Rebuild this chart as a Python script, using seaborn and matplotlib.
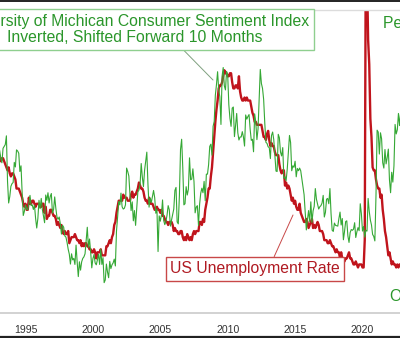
import numpy as np
import pandas as pd
import matplotlib
matplotlib.use("Agg")
import matplotlib.pyplot as plt
from matplotlib.lines import Line2D
import seaborn as sns

# ---- data -------------------------------------------------------------
# US unemployment rate, monthly, Jan 1993 .. Dec 2022 (%)
unemp_start_year = 1993
unemployment = [
    7.3, 7.1, 7.0, 7.1, 7.1, 7.0, 6.9, 6.8, 6.7, 6.8, 6.6, 6.5,
    6.6, 6.6, 6.5, 6.4, 6.1, 6.1, 6.1, 6.0, 5.9, 5.8, 5.6, 5.5,
    5.6, 5.4, 5.4, 5.8, 5.6, 5.6, 5.7, 5.7, 5.6, 5.5, 5.6, 5.6,
    5.6, 5.5, 5.5, 5.6, 5.6, 5.3, 5.5, 5.1, 5.2, 5.2, 5.4, 5.4,
    5.3, 5.2, 5.2, 5.1, 4.9, 5.0, 4.9, 4.8, 4.9, 4.7, 4.6, 4.7,
    4.6, 4.6, 4.7, 4.3, 4.4, 4.5, 4.5, 4.5, 4.6, 4.5, 4.4, 4.4,
    4.3, 4.4, 4.2, 4.3, 4.2, 4.3, 4.3, 4.2, 4.2, 4.1, 4.1, 4.0,
    4.0, 4.1, 4.0, 3.8, 4.0, 4.0, 4.0, 4.1, 3.9, 3.9, 3.9, 3.9,
    4.2, 4.2, 4.3, 4.4, 4.3, 4.5, 4.6, 4.9, 5.0, 5.3, 5.5, 5.7,
    5.7, 5.7, 5.7, 5.9, 5.8, 5.8, 5.8, 5.7, 5.7, 5.7, 5.9, 6.0,
    5.8, 5.9, 5.9, 6.0, 6.1, 6.3, 6.2, 6.1, 6.1, 6.0, 5.8, 5.7,
    5.7, 5.6, 5.8, 5.6, 5.6, 5.6, 5.5, 5.4, 5.4, 5.5, 5.4, 5.4,
    5.3, 5.4, 5.2, 5.2, 5.1, 5.0, 5.0, 4.9, 5.0, 5.0, 5.0, 4.9,
    4.7, 4.8, 4.7, 4.7, 4.6, 4.6, 4.7, 4.7, 4.5, 4.4, 4.5, 4.4,
    4.6, 4.5, 4.4, 4.5, 4.4, 4.6, 4.7, 4.6, 4.7, 4.7, 4.7, 5.0,
    5.0, 4.9, 5.1, 5.0, 5.4, 5.6, 5.8, 6.1, 6.1, 6.5, 6.8, 7.3,
    7.8, 8.3, 8.7, 9.0, 9.4, 9.5, 9.5, 9.6, 9.8, 10.0, 9.9, 9.9,
    9.8, 9.8, 9.9, 9.9, 9.6, 9.4, 9.4, 9.5, 9.5, 9.4, 9.8, 9.3,
    9.1, 9.0, 9.0, 9.1, 9.0, 9.1, 9.0, 9.0, 9.0, 8.8, 8.6, 8.5,
    8.3, 8.3, 8.2, 8.2, 8.2, 8.2, 8.2, 8.0, 7.8, 7.8, 7.7, 7.9,
    8.0, 7.7, 7.5, 7.6, 7.5, 7.5, 7.3, 7.2, 7.2, 7.2, 6.9, 6.7,
    6.6, 6.7, 6.7, 6.2, 6.3, 6.1, 6.2, 6.1, 5.9, 5.7, 5.8, 5.6,
    5.7, 5.5, 5.4, 5.4, 5.6, 5.3, 5.2, 5.1, 5.0, 5.0, 5.1, 5.0,
    4.8, 4.9, 5.0, 5.1, 4.8, 4.9, 4.8, 4.9, 5.0, 4.9, 4.7, 4.7,
    4.7, 4.6, 4.4, 4.4, 4.4, 4.3, 4.3, 4.4, 4.3, 4.2, 4.2, 4.1,
    4.0, 4.1, 4.0, 4.0, 3.8, 4.0, 3.8, 3.8, 3.7, 3.8, 3.8, 3.9,
    4.0, 3.8, 3.8, 3.7, 3.6, 3.6, 3.7, 3.6, 3.5, 3.6, 3.6, 3.6,
    3.5, 3.5, 4.4, 14.8, 13.2, 11.0, 10.2, 8.4, 7.8, 6.8, 6.7, 6.7,
    6.4, 6.2, 6.1, 6.1, 5.8, 5.9, 5.4, 5.1, 4.7, 4.5, 4.2, 3.9,
    4.0, 3.8, 3.6, 3.7, 3.6, 3.6, 3.5, 3.6, 3.5, 3.6, 3.6, 3.5,
]

# University of Michigan consumer sentiment, monthly, Jan 1992 .. Dec 2022
sent_start_year = 1992
sentiment = [
    67.5, 68.8, 76.0, 77.2, 79.2, 80.4, 76.6, 76.1, 75.6, 73.3, 85.3, 91.0,
    89.3, 86.6, 85.9, 85.6, 80.3, 81.5, 77.0, 77.3, 77.9, 82.7, 81.2, 88.2,
    94.3, 93.2, 91.5, 92.6, 92.8, 91.2, 89.0, 91.7, 91.5, 92.7, 91.6, 95.1,
    97.6, 95.1, 90.3, 92.5, 89.8, 92.7, 94.4, 96.2, 88.9, 90.3, 88.3, 91.0,
    89.3, 88.5, 93.7, 92.7, 89.4, 92.4, 94.7, 95.3, 94.7, 96.5, 99.2, 96.9,
    97.4, 99.7, 100.0, 101.4, 103.2, 104.5, 107.1, 104.4, 106.0, 105.6, 107.2, 102.1,
    106.6, 110.4, 106.5, 108.7, 106.5, 105.6, 105.2, 104.4, 100.9, 97.4, 102.7, 100.5,
    103.9, 108.1, 105.7, 104.6, 106.8, 107.3, 106.0, 104.5, 107.2, 103.2, 107.2, 105.4,
    112.0, 111.3, 107.1, 109.2, 110.7, 106.4, 108.3, 107.3, 106.8, 105.8, 107.6, 98.4,
    94.7, 90.6, 91.5, 88.4, 92.0, 92.6, 92.4, 91.5, 81.8, 82.7, 83.9, 88.8,
    93.0, 90.7, 95.7, 93.0, 96.9, 92.4, 88.1, 87.6, 86.1, 80.6, 84.2, 86.7,
    82.4, 79.9, 77.6, 86.0, 92.1, 89.7, 90.9, 89.3, 87.7, 89.6, 93.7, 92.6,
    103.8, 94.4, 95.8, 94.2, 90.2, 95.6, 96.7, 95.9, 94.2, 91.7, 92.8, 97.1,
    95.5, 94.1, 92.6, 87.7, 86.9, 96.0, 96.5, 89.1, 76.9, 74.2, 81.6, 91.5,
    91.2, 86.7, 88.9, 87.4, 79.1, 84.9, 84.7, 82.0, 85.4, 93.6, 92.1, 91.7,
    96.9, 91.3, 88.4, 87.1, 88.3, 85.3, 90.4, 83.4, 83.4, 80.9, 76.1, 75.5,
    78.4, 70.8, 69.5, 62.6, 59.8, 56.4, 61.2, 63.0, 70.3, 57.6, 55.3, 60.1,
    61.2, 56.3, 57.3, 65.1, 68.7, 70.8, 66.0, 65.7, 73.5, 70.6, 67.4, 72.5,
    74.4, 73.6, 73.6, 72.2, 73.6, 76.0, 67.8, 68.9, 68.2, 67.7, 71.6, 74.5,
    74.2, 77.5, 67.5, 69.8, 74.3, 71.5, 63.7, 55.8, 59.5, 60.8, 63.7, 69.9,
    75.0, 75.3, 76.2, 76.4, 79.3, 73.2, 72.3, 74.3, 78.3, 82.6, 82.7, 72.9,
    73.8, 77.6, 78.6, 76.4, 84.5, 84.1, 85.1, 82.1, 77.5, 73.2, 75.1, 82.5,
    81.2, 81.6, 80.0, 84.1, 81.9, 82.5, 81.8, 82.5, 84.6, 86.9, 88.8, 93.6,
    98.1, 95.4, 93.0, 95.9, 90.7, 96.1, 93.1, 91.9, 87.2, 90.0, 91.3, 92.6,
    92.0, 91.7, 91.0, 89.0, 94.7, 93.5, 90.0, 89.8, 91.2, 87.2, 93.8, 98.2,
    98.5, 96.3, 96.9, 97.0, 97.1, 95.1, 93.4, 96.8, 95.1, 100.7, 98.5, 95.9,
    95.7, 99.7, 101.4, 98.8, 98.0, 98.2, 97.9, 96.2, 100.1, 98.6, 97.5, 98.3,
    91.2, 93.8, 98.4, 97.2, 100.0, 98.2, 98.4, 89.8, 93.2, 95.5, 96.8, 99.3,
    99.8, 101.0, 89.1, 71.8, 72.3, 78.1, 72.5, 74.1, 80.4, 81.8, 76.9, 80.7,
    79.0, 76.8, 84.9, 88.3, 82.9, 85.5, 81.2, 70.3, 72.8, 71.7, 67.4, 70.6,
    67.2, 62.8, 59.4, 65.2, 58.4, 50.0, 51.5, 58.2, 58.6, 59.9, 56.8, 59.7,
]
shift_months = 10

tick_years = [1995, 2000, 2005, 2010, 2015, 2020]

label_sentiment = "University of Michican Consumer Sentiment Index\nInverted, Shifted Forward 10 Months"
label_unemp = "US Unemployment Rate"
label_peak = "Peak Pessimism"
label_opt = "Optimism"

# ---- frames -------------------------------------------------------------
df_u = pd.DataFrame({
    "date": unemp_start_year + np.arange(len(unemployment)) / 12.0,
    "rate": unemployment,
})
df_s = pd.DataFrame({
    "date": sent_start_year + (np.arange(len(sentiment)) + shift_months) / 12.0,
    "sent": sentiment,
})

# ---- style --------------------------------------------------------------
sns.set_theme(style="white")
plt.rcParams["font.family"] = ["Liberation Sans", "DejaVu Sans"]

RED = "#c0141c"
GREEN = "#35a835"
GREEN_TXT = "#2a962a"

W, H = 400, 338
fig = plt.figure(figsize=(W / 100, H / 100), dpi=100)
fig.patch.set_facecolor("white")

# axis extends beyond the visible crop on both sides
x0, x1 = 1990, 2025
px_1995, px_per_year = 25.5, 13.48
left_px = px_1995 - (1995 - x0) * px_per_year
right_px = px_1995 + (x1 - 1995) * px_per_year
top_px, bot_px = 9.5, 313.0
ax = fig.add_axes([left_px / W, 1 - bot_px / H,
                   (right_px - left_px) / W, (bot_px - top_px) / H])

sns.lineplot(data=df_u, x="date", y="rate", ax=ax, color=RED, lw=1.7)
ax.set_xlim(x0, x1)
ax.set_ylim(2, 12)

ax2 = ax.twinx()
sns.lineplot(data=df_s, x="date", y="sent", ax=ax2, color=GREEN, lw=0.8)
ax2.set_ylim(120, 40)

for a in (ax, ax2):
    a.set_xlabel("")
    a.set_ylabel("")
    a.set_yticks([])
    for s in a.spines.values():
        s.set_visible(False)

ax.spines["bottom"].set_visible(True)
ax.spines["bottom"].set_color("#cfcfcf")
ax.spines["bottom"].set_linewidth(1.3)
ax.spines["top"].set_visible(True)
ax.spines["top"].set_color("#dcdcdc")
ax.spines["top"].set_linewidth(1.0)

ax.set_xticks(tick_years)
ax.set_xticklabels([str(y) for y in tick_years])
ax.tick_params(axis="x", length=0, pad=8.5, labelsize=7.6, labelcolor="#333333")

def px2data(px, py):
    xd = 1995 + (px - px_1995) / px_per_year
    yd = 12 - (py - top_px) * 10 / (bot_px - top_px)
    return xd, yd

fs = 11.3
# green annotation box
ax2.annotate(label_sentiment, xy=px2data(213, 80), xycoords=ax.transData,
             xytext=px2data(135, 29.5), textcoords=ax.transData,
             ha="center", va="center", fontsize=fs, color=GREEN_TXT,
             linespacing=1.15,
             bbox=dict(boxstyle="square,pad=0.3", fc="white", ec="#8fcf8f", lw=1.0),
             arrowprops=dict(arrowstyle="-", color="#7fa07f", lw=0.7,
                             shrinkA=0, shrinkB=0, relpos=(0.626, 0.0)),
             zorder=10)

# red annotation box
ax2.annotate(label_unemp, xy=px2data(293, 215), xycoords=ax.transData,
             xytext=px2data(255, 269), textcoords=ax.transData,
             ha="center", va="center", fontsize=fs, color="#b01a22",
             bbox=dict(boxstyle="square,pad=0.28", fc="white", ec="#c84848", lw=1.0),
             arrowprops=dict(arrowstyle="-", color="#c84848", lw=0.7,
                             shrinkA=0, shrinkB=0, relpos=(0.6, 1.0)),
             zorder=10)

ax2.text(*px2data(383, 24), label_peak, transform=ax.transData, ha="left",
         va="center", fontsize=fs, color=GREEN_TXT, zorder=10)
ax2.text(*px2data(389, 297), label_opt, transform=ax.transData, ha="left",
         va="center", fontsize=fs, color=GREEN_TXT, zorder=10)

# dark crop borders at top and bottom
fig.add_artist(Line2D([0, 1], [1 - 0.8 / H, 1 - 0.8 / H], transform=fig.transFigure,
                      color="#222222", lw=1.4))
fig.add_artist(Line2D([0, 1], [1.2 / H, 1.2 / H], transform=fig.transFigure,
                      color="#222222", lw=1.6))

fig.savefig("out.png", dpi=100)
